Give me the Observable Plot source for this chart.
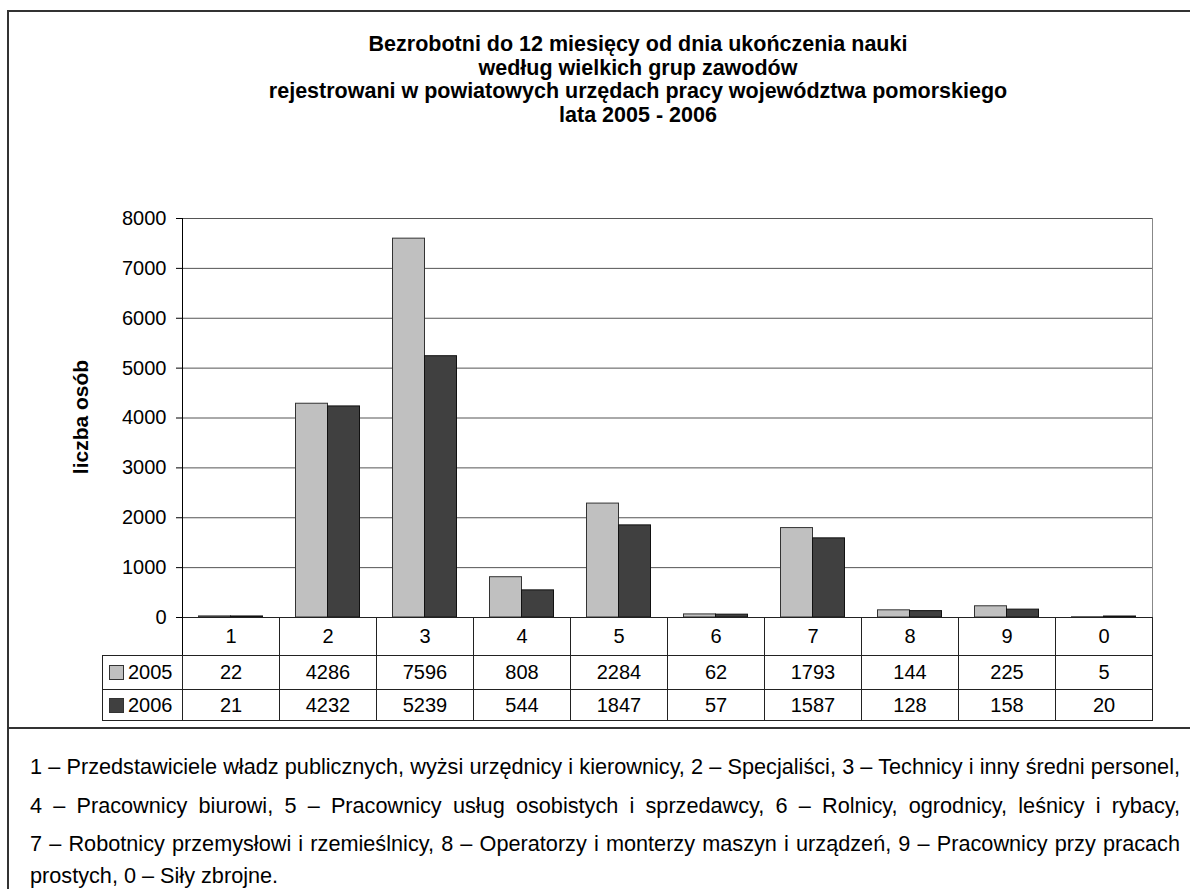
<!DOCTYPE html>
<html>
<head>
<meta charset="utf-8">
<script src="https://cdn.jsdelivr.net/npm/d3@7"></script>
<script src="https://cdn.jsdelivr.net/npm/@observablehq/plot@0.6"></script>
<style>
  html, body { margin: 0; padding: 0; background: #fff; }
  body { font-family: "Liberation Sans", Arial, sans-serif; color: #000; }
  #wrap { position: relative; width: 1190px; height: 889px; overflow: hidden; }
  .box { position: absolute; border: 2px solid #333; box-sizing: border-box; }
  #title { position: absolute; left: 188px; top: 33px; width: 900px; text-align: center;
           font-weight: bold; font-size: 21.5px; line-height: 23.7px; }
  #ylabel { position: absolute; left: 81px; top: 417px; transform: translate(-50%, -50%) rotate(-90deg);
            font-weight: bold; font-size: 21px; white-space: nowrap; }
  #chart { position: absolute; left: 0; top: 200px; }
  #table { position: absolute; left: 102px; top: 617px; border-collapse: collapse; table-layout: fixed;
           font-size: 20px; }
  #table td { padding: 0; text-align: center; border: 1px solid #222; box-sizing: border-box; }
  #table td.leg { text-align: left; padding-left: 6px; white-space: nowrap; }
  .sw { display: inline-block; width: 13px; height: 13px; border: 1px solid #333; margin-right: 4px; vertical-align: -1px; }
  #notes { position: absolute; left: 30px; top: 748px; width: 1150px; font-size: 23px; line-height: 38.5px; }
  #notes div { text-align: justify; text-align-last: justify; white-space: nowrap; }
  #notes div.last { text-align-last: left; line-height: 24px; margin-top: 0.5px; }
  #measure { position: absolute; visibility: hidden; white-space: nowrap; left: 0; top: 0; }
</style>
</head>
<body>
<div id="wrap">
  <div class="box" style="left:7px; top:10px; width:1200px; height:719px;"></div>
  <div class="box" style="left:7px; top:727px; width:1200px; height:200px;"></div>
  <div id="title"></div>
  <div id="ylabel"></div>
  <div id="chart"></div>
  <table id="table"></table>
  <div id="notes"></div>
</div>
<script>
const categories = ["1", "2", "3", "4", "5", "6", "7", "8", "9", "0"];
const years = ["2005", "2006"];
const values2005 = [22, 4286, 7596, 808, 2284, 62, 1793, 144, 225, 5];
const values2006 = [21, 4232, 5239, 544, 1847, 57, 1587, 128, 158, 20];
const yTicks = [0, 1000, 2000, 3000, 4000, 5000, 6000, 7000, 8000];
const yLabel = "liczba osób";
const titleLines = [
  "Bezrobotni do 12 miesięcy od dnia ukończenia nauki",
  "według wielkich grup zawodów",
  "rejestrowani w powiatowych urzędach pracy województwa pomorskiego",
  "lata 2005 - 2006"
];
const yearColors = ["#c0c0c0", "#404040"];
const noteLines = [
  "1 – Przedstawiciele władz publicznych, wyżsi urzędnicy i kierownicy, 2 – Specjaliści, 3 – Technicy i inny średni personel,",
  "4 – Pracownicy biurowi, 5 – Pracownicy usług osobistych i sprzedawcy, 6 – Rolnicy, ogrodnicy, leśnicy  i rybacy,",
  "7 – Robotnicy przemysłowi i rzemieślnicy, 8 – Operatorzy i monterzy maszyn i urządzeń, 9 – Pracownicy przy pracach",
  "prostych, 0 – Siły zbrojne."
];

// Title
const titleEl = document.getElementById("title");
titleLines.forEach(t => { const d = document.createElement("div"); d.textContent = t; titleEl.appendChild(d); });
document.getElementById("ylabel").textContent = yLabel;

// Data
const seriesValues = [values2005, values2006];
const data = categories.flatMap((c, i) => years.map((y, j) => ({cat: c, year: y, value: seriesValues[j][i]})));

const chart = Plot.plot({
  width: 1190,
  height: 430,
  marginLeft: 182,
  marginRight: 38,
  marginTop: 18,
  marginBottom: 13,
  style: {fontFamily: "Liberation Sans, Arial, sans-serif", fontSize: "20px", background: "transparent", overflow: "visible"},
  x: {domain: categories, padding: 0, axis: null},
  y: {domain: [0, 8000], axis: null},
  marks: [
    Plot.gridY(yTicks.filter(t => t > 0), {stroke: "#555", strokeOpacity: 1}),
    Plot.frame({anchor: "right", stroke: "#888"}),
    Plot.barY(data.filter(d => d.year === "2005"), {x: "cat", y: "value", fill: yearColors[0], stroke: "#333", strokeWidth: 1, insetLeft: 16.5, insetRight: 48.5}),
    Plot.barY(data.filter(d => d.year === "2006"), {x: "cat", y: "value", fill: yearColors[1], stroke: "#111", strokeWidth: 1, insetLeft: 48.5, insetRight: 16.5}),
    Plot.ruleY([0], {stroke: "#000"}),
    Plot.frame({anchor: "left", stroke: "#000"}),
    Plot.axisY({ticks: yTicks, tickSize: 6, tickPadding: 10, fontSize: 20, label: null, tickFormat: d => String(d)})
  ]
});
document.getElementById("chart").appendChild(chart);

// Data table
const table = document.getElementById("table");
const colW = [80].concat(categories.map(() => 97));
const cg = document.createElement("colgroup");
colW.forEach(w => { const c = document.createElement("col"); c.style.width = w + "px"; cg.appendChild(c); });
table.appendChild(cg);
table.style.width = d3.sum(colW) + "px";
const r0 = document.createElement("tr");
const blank = document.createElement("td");
blank.style.border = "none"; blank.style.borderRight = "1px solid #000"; blank.style.borderBottom = "1px solid #222";
r0.appendChild(blank);
categories.forEach(c => { const td = document.createElement("td"); td.textContent = c; r0.appendChild(td); });
r0.style.height = "38px";
table.appendChild(r0);
years.forEach((y, j) => {
  const tr = document.createElement("tr");
  tr.style.height = j === 0 ? "34px" : "31px";
  const lg = document.createElement("td"); lg.className = "leg";
  const sw = document.createElement("span"); sw.className = "sw"; sw.style.background = yearColors[j];
  lg.appendChild(sw); lg.appendChild(document.createTextNode(y));
  tr.appendChild(lg);
  seriesValues[j].forEach(v => { const td = document.createElement("td"); td.textContent = v; tr.appendChild(td); });
  table.appendChild(tr);
});

// Notes: fit the font so the longest justified line fits the box width
const notes = document.getElementById("notes");
const boxW = 1150;
const meas = document.createElement("span");
meas.id = "measure";
meas.style.fontSize = "23px";
document.body.appendChild(meas);
let maxW = 0;
noteLines.slice(0, -1).forEach(t => { meas.textContent = t; maxW = Math.max(maxW, meas.getBoundingClientRect().width); });
meas.remove();
const fs = Math.min(23, 23 * (boxW - 2) / maxW);
notes.style.fontSize = fs + "px";
noteLines.forEach((t, i) => {
  const d = document.createElement("div"); d.textContent = t;
  if (i === noteLines.length - 1) d.className = "last";
  notes.appendChild(d);
});
</script>
</body>
</html>
